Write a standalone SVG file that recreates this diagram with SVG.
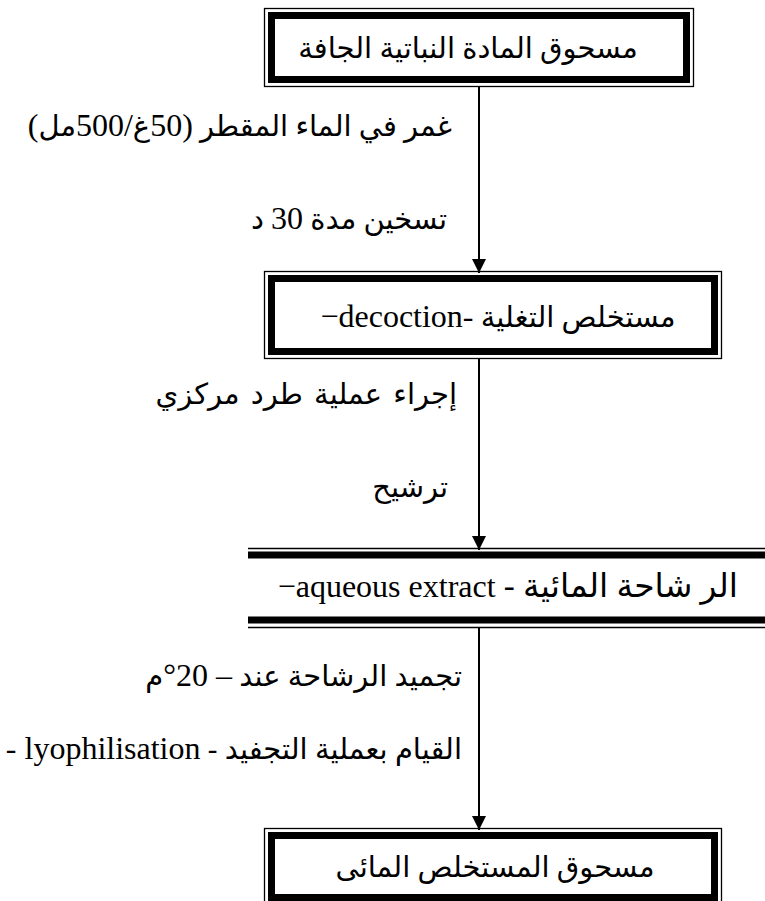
<svg xmlns="http://www.w3.org/2000/svg" width="765" height="901" viewBox="0 0 765 901">
<style>
.thin{fill:none;stroke:#000;stroke-width:1.3}
.thick{fill:none;stroke:#000;stroke-width:7}
.t{font-family:"Liberation Serif","DejaVu Sans",serif;font-size:29px;fill:#000;direction:rtl;unicode-bidi:embed}
.l{font-size:32px}
.c{stroke:#000;stroke-width:2;fill:none}
</style>
<defs>
<marker id="ah" markerUnits="userSpaceOnUse" markerWidth="16" markerHeight="14" refX="14" refY="7" orient="auto">
<path d="M0,0 L14,7 L0,14 Z" fill="#000"/>
</marker>
</defs>
<rect width="765" height="901" fill="#fff"/>
<g id="connectors">
<line class="c" x1="479" y1="87" x2="479" y2="273" marker-end="url(#ah)"/>
<line class="c" x1="479" y1="359" x2="479" y2="550" marker-end="url(#ah)"/>
<line class="c" x1="479" y1="628" x2="479" y2="830" marker-end="url(#ah)"/>
</g>
<g id="node1">
<rect class="thin" x="264.5" y="8.5" width="429" height="78"/>
<rect class="thick" x="271.5" y="15.5" width="415" height="64"/>
<text class="t" x="468" y="58" text-anchor="middle">مسحوق المادة النباتية الجافة</text>
</g>
<g id="label1"><text class="t" x="452" y="136" text-anchor="start">غمر في الماء المقطر <tspan class="l">(50</tspan>غ<tspan class="l">/500</tspan>مل<tspan class="l">)</tspan></text></g>
<g id="label2"><text class="t" x="447" y="229" text-anchor="start">تسخين مدة <tspan class="l">30</tspan> د</text></g>
<g id="node2">
<rect class="thin" x="264.5" y="271.5" width="457" height="87"/>
<rect class="thick" x="271.5" y="278.5" width="443" height="73"/>
<text class="t" x="498" y="327" text-anchor="middle">مستخلص التغلية <tspan class="l">-decoction−</tspan></text>
</g>
<g id="label3"><text class="t" x="457" y="404" text-anchor="start" word-spacing="4">إجراء عملية طرد مركزي</text></g>
<g id="label4"><text class="t" x="448" y="497" text-anchor="start">ترشيح</text></g>
<g id="node3">
<line class="thin" x1="248" y1="548.5" x2="765" y2="548.5"/>
<line class="thick" x1="248" y1="555" x2="765" y2="555"/>
<line class="thick" x1="248" y1="620" x2="765" y2="620"/>
<line class="thin" x1="248" y1="627.5" x2="765" y2="627.5"/>
<text class="t" x="738" y="597" text-anchor="start" style="font-size:33px">الر شاحة المائية - <tspan class="l">aqueous extract−</tspan></text>
</g>
<g id="label5"><text class="t" x="462" y="686" text-anchor="start">تجميد الرشاحة عند <tspan class="l">– 20°</tspan>م</text></g>
<g id="label6"><text class="t" x="462" y="759" text-anchor="start">القيام بعملية التجفيد - <tspan class="l">lyophilisation -</tspan></text></g>
<g id="node4">
<rect class="thin" x="264.5" y="828.5" width="457" height="90"/>
<rect class="thick" x="271.5" y="835.5" width="443" height="62"/>
<text class="t" x="495" y="877" text-anchor="middle">مسحوق المستخلص المائى</text>
</g>
</svg>
